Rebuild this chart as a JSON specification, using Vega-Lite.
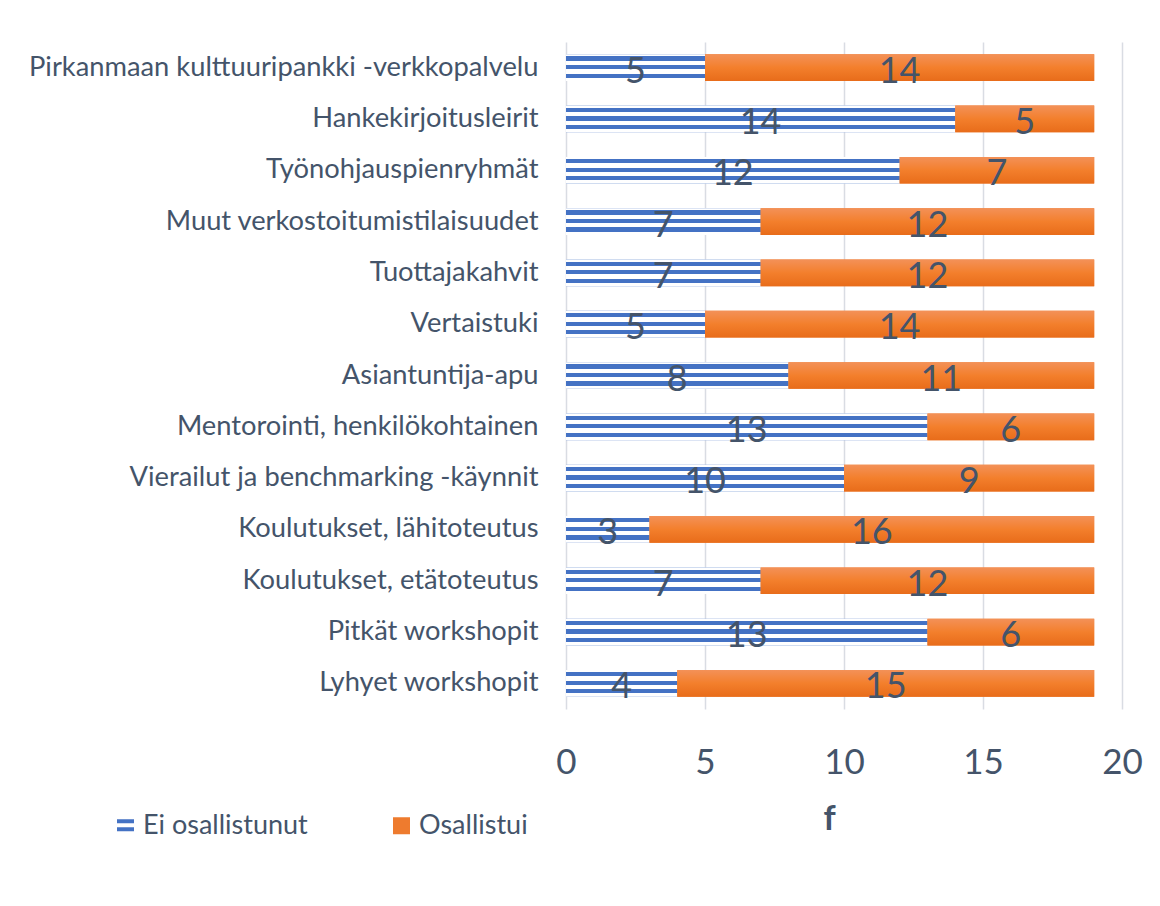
{
  "$schema": "https://vega.github.io/schema/vega-lite/v6.json",
  "width": 556,
  "height": 667,
  "autosize": {"type": "none"},
  "padding": {"left": 566, "top": 42, "right": 38, "bottom": 197},
  "background": "white",
  "config": {
    "font": "Lato",
    "view": {"stroke": null},
    "axis": {"labelColor": "#44546A", "titleColor": "#44546A"}
  },
  "data": {
    "values": [
      {"c": "Pirkanmaan kulttuuripankki -verkkopalvelu", "s": "Ei osallistunut", "v": 5},
      {"c": "Pirkanmaan kulttuuripankki -verkkopalvelu", "s": "Osallistui", "v": 14},
      {"c": "Hankekirjoitusleirit", "s": "Ei osallistunut", "v": 14},
      {"c": "Hankekirjoitusleirit", "s": "Osallistui", "v": 5},
      {"c": "Työnohjauspienryhmät", "s": "Ei osallistunut", "v": 12},
      {"c": "Työnohjauspienryhmät", "s": "Osallistui", "v": 7},
      {"c": "Muut verkostoitumistilaisuudet", "s": "Ei osallistunut", "v": 7},
      {"c": "Muut verkostoitumistilaisuudet", "s": "Osallistui", "v": 12},
      {"c": "Tuottajakahvit", "s": "Ei osallistunut", "v": 7},
      {"c": "Tuottajakahvit", "s": "Osallistui", "v": 12},
      {"c": "Vertaistuki", "s": "Ei osallistunut", "v": 5},
      {"c": "Vertaistuki", "s": "Osallistui", "v": 14},
      {"c": "Asiantuntija-apu", "s": "Ei osallistunut", "v": 8},
      {"c": "Asiantuntija-apu", "s": "Osallistui", "v": 11},
      {"c": "Mentorointi, henkilökohtainen", "s": "Ei osallistunut", "v": 13},
      {"c": "Mentorointi, henkilökohtainen", "s": "Osallistui", "v": 6},
      {"c": "Vierailut ja benchmarking -käynnit", "s": "Ei osallistunut", "v": 10},
      {"c": "Vierailut ja benchmarking -käynnit", "s": "Osallistui", "v": 9},
      {"c": "Koulutukset, lähitoteutus", "s": "Ei osallistunut", "v": 3},
      {"c": "Koulutukset, lähitoteutus", "s": "Osallistui", "v": 16},
      {"c": "Koulutukset, etätoteutus", "s": "Ei osallistunut", "v": 7},
      {"c": "Koulutukset, etätoteutus", "s": "Osallistui", "v": 12},
      {"c": "Pitkät workshopit", "s": "Ei osallistunut", "v": 13},
      {"c": "Pitkät workshopit", "s": "Osallistui", "v": 6},
      {"c": "Lyhyet workshopit", "s": "Ei osallistunut", "v": 4},
      {"c": "Lyhyet workshopit", "s": "Osallistui", "v": 15}
    ]
  },
  "transform": [
    {"stack": "v", "groupby": ["c"], "sort": [{"field": "s", "order": "ascending"}], "as": ["x0", "x1"]},
    {"calculate": "(datum.x0 + datum.x1) / 2", "as": "xm"}
  ],
  "encoding": {
    "y": {
      "field": "c",
      "type": "nominal",
      "sort": null,
      "scale": {"paddingInner": 0.48, "paddingOuter": 0.24},
      "axis": {
        "title": null,
        "domain": false,
        "ticks": false,
        "labelPadding": 28,
        "labelFontSize": 27.3,
        "labelLimit": 700,
        "grid": false
      }
    }
  },
  "layer": [
    {
      "mark": {"type": "bar"},
      "encoding": {
        "x": {
          "field": "x0",
          "type": "quantitative",
          "scale": {"domain": [0, 20], "nice": false},
          "axis": {
            "values": [0, 5, 10, 15, 20],
            "title": "f",
            "titleFontSize": 34,
            "titleFontWeight": "bold",
            "titleX": 263,
            "titleY": 120,
            "titleBaseline": "alphabetic",
            "domain": false,
            "ticks": false,
            "labelFlush": false,
            "labelPadding": 36,
            "labelFontSize": 35,
            "grid": true,
            "gridColor": "#D9DCE3",
            "gridWidth": 1.5
          }
        },
        "x2": {"field": "x1"},
        "fill": {
          "field": "s",
          "type": "nominal",
          "scale": {"domain": ["Ei osallistunut", "Osallistui"], "range": ["#4472C4", "#EE7B2E"]},
          "legend": {
            "orient": "none",
            "legendX": -454,
            "legendY": 770,
            "direction": "horizontal",
            "title": null,
            "padding": 0,
            "symbolType": "square",
            "symbolSize": 289,
            "symbolStrokeWidth": 0,
            "labelFontSize": 27,
            "labelColor": "#44546A",
            "labelOffset": 4,
            "labelLimit": 400,
            "columnPadding": 80,
            "encode": {
              "symbols": {
                "update": {
                  "shape": {"signal": "datum.value === 'Ei osallistunut' ? 'M-1,-0.76H1V-0.29H-1Z M-1,0.18H1V0.65H-1Z' : 'square'"}
                }
              }
            }
          }
        }
      }
    },
    {
      "transform": [{"filter": "datum.s === 'Ei osallistunut'"}],
      "mark": {
        "type": "bar",
        "fill": {
          "gradient": "linear",
          "x1": 0, "y1": 0, "x2": 0, "y2": 1,
          "stops": [
            {"offset": 0, "color": "#FFFFFF"},
            {"offset": 0.08, "color": "#FFFFFF"},
            {"offset": 0.08, "color": "#4472C4"},
            {"offset": 0.24, "color": "#4472C4"},
            {"offset": 0.24, "color": "#FFFFFF"},
            {"offset": 0.4, "color": "#FFFFFF"},
            {"offset": 0.4, "color": "#4472C4"},
            {"offset": 0.56, "color": "#4472C4"},
            {"offset": 0.56, "color": "#FFFFFF"},
            {"offset": 0.72, "color": "#FFFFFF"},
            {"offset": 0.72, "color": "#4472C4"},
            {"offset": 0.88, "color": "#4472C4"},
            {"offset": 0.88, "color": "#FFFFFF"},
            {"offset": 1, "color": "#FFFFFF"}
          ]
        }
      },
      "encoding": {
        "x": {"field": "x0", "type": "quantitative"},
        "x2": {"field": "x1"}
      }
    },
    {
      "transform": [{"filter": "datum.s === 'Osallistui'"}],
      "mark": {
        "type": "bar",
        "fill": {
          "gradient": "linear",
          "x1": 0, "y1": 0, "x2": 0, "y2": 1,
          "stops": [
            {"offset": 0, "color": "#F39158"},
            {"offset": 0.5, "color": "#F37F2C"},
            {"offset": 1, "color": "#E86C1A"}
          ]
        }
      },
      "encoding": {
        "x": {"field": "x0", "type": "quantitative"},
        "x2": {"field": "x1"}
      }
    },
    {
      "mark": {"type": "text", "fontSize": 36, "color": "#44546A", "baseline": "alphabetic", "dy": 15, "align": "center"},
      "encoding": {
        "x": {"field": "xm", "type": "quantitative"},
        "text": {"field": "v", "type": "quantitative"}
      }
    }
  ]
}
